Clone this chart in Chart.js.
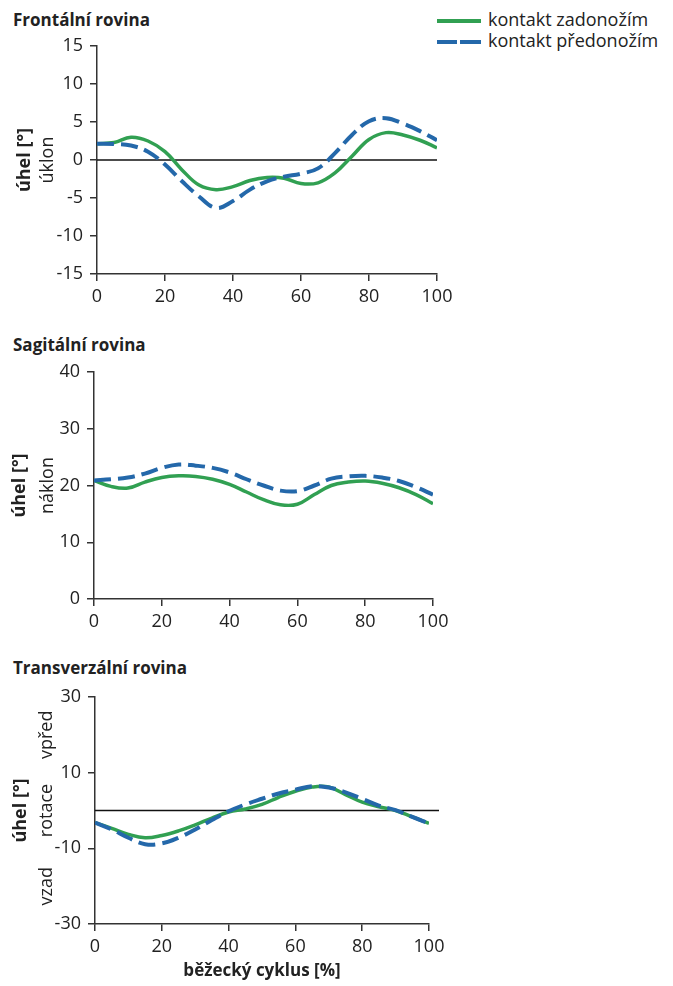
<!DOCTYPE html>
<html>
<head>
<meta charset="utf-8">
<script src="https://cdn.jsdelivr.net/npm/chart.js@4.4.1/dist/chart.umd.min.js"></script>
<style>
  body { margin: 0; background: #fff; font-family: 'Open Sans', sans-serif; color: #222; }
  #page { position: relative; width: 673px; height: 986px; overflow: hidden; }
  .box { position: absolute; left: 0; width: 460px; }
  .title { position: absolute; left: 13px; font-size: 17px; font-weight: bold; line-height: 20px; white-space: nowrap; }
  .leg { position: absolute; left: 437px; height: 21px; line-height: 21px; font-size: 18px; white-space: nowrap; }
  .leg .sw { position: absolute; top: 10px; height: 4px; }
  .leg span.txt { position: absolute; left: 51px; top: 0; }
</style>
</head>
<body>
<div id="page">
  <div class="title" style="top:10px">Frontální rovina</div>
  <div class="title" style="top:335px">Sagitální rovina</div>
  <div class="title" style="top:658px">Transverzální rovina</div>

  <div class="leg" style="top:9px">
    <div class="sw" style="left:0;width:44px;background:#31A052"></div>
    <span class="txt">kontakt zadonožím</span>
  </div>
  <div class="leg" style="top:30px">
    <div class="sw" style="left:0;width:20px;background:#2468AA"></div>
    <div class="sw" style="left:23px;width:21px;background:#2468AA"></div>
    <span class="txt">kontakt předonožím</span>
  </div>

  <div class="box" style="top:0;height:310px"><canvas id="frontal"></canvas></div>
  <div class="box" style="top:310px;height:325px"><canvas id="sagittal"></canvas></div>
  <div class="box" style="top:635px;height:351px"><canvas id="transverse"></canvas></div>
</div>

<script>
// běžecký cyklus [%]
const cycle = [0, 5, 10, 15, 20, 25, 30, 35, 40, 45, 50, 55, 60, 65, 70, 75, 80, 85, 90, 95, 100];
const xTicks = [0, 20, 40, 60, 80, 100];

// frontální rovina
const frontZad = [2.15, 2.3, 3.0, 2.5, 1.1, -1.3, -3.3, -3.9, -3.5, -2.7, -2.3, -2.4, -3.1, -3.0, -1.7, 0.5, 2.7, 3.6, 3.3, 2.6, 1.6];
const frontPred = [2.15, 2.1, 1.9, 1.1, -0.6, -2.8, -4.8, -6.3, -5.4, -3.9, -2.8, -2.2, -1.8, -1.1, 0.9, 3.3, 5.1, 5.5, 4.8, 3.8, 2.6];

// sagitální rovina
const sagZad = [20.9, 19.85, 19.55, 20.6, 21.4, 21.7, 21.6, 21.1, 20.2, 18.85, 17.5, 16.6, 16.7, 18.4, 20.0, 20.6, 20.8, 20.4, 19.6, 18.4, 16.8];
const sagPred = [20.9, 21.1, 21.4, 22.1, 23.1, 23.7, 23.5, 23.1, 22.3, 21.1, 20.0, 19.1, 19.0, 20.0, 21.2, 21.6, 21.7, 21.4, 20.8, 19.7, 18.4];

// transverzální rovina
const transZad = [-3.2, -4.7, -6.3, -7.2, -6.6, -5.4, -3.8, -2.0, -0.4, 0.4, 1.6, 3.5, 5.1, 6.2, 6.2, 4.2, 2.2, 1.0, 0.0, -1.7, -3.4];
const transPred = [-3.2, -5.0, -7.2, -8.9, -8.7, -7.2, -5.0, -2.5, -0.2, 1.6, 3.1, 4.5, 5.5, 6.4, 6.1, 4.8, 3.1, 1.3, 0.1, -1.7, -3.4];

const GREEN = '#31A052';
const BLUE = '#2468AA';
const FONT = "'Open Sans', sans-serif";

// zero line under the data, rotated side labels and x title on top
const extras = {
  id: 'extras',
  beforeDatasetsDraw(chart, args, opts) {
    if (!opts.zeroLine) return;
    const ctx = chart.ctx, area = chart.chartArea;
    const y0 = chart.scales.y.getPixelForValue(0);
    ctx.save();
    ctx.strokeStyle = '#111';
    ctx.lineWidth = 1.5;
    ctx.beginPath();
    ctx.moveTo(area.left, y0);
    ctx.lineTo(area.right + (opts.zeroExtend || 0), y0);
    ctx.stroke();
    ctx.restore();
  },
  afterDraw(chart, args, opts) {
    const ctx = chart.ctx, ys = chart.scales.y, area = chart.chartArea;
    ctx.save();
    ctx.fillStyle = '#222';
    ctx.textAlign = 'center';
    ctx.textBaseline = 'middle';
    (opts.side || []).forEach(l => {
      ctx.save();
      ctx.translate(l.x, ys.getPixelForValue(l.value));
      ctx.rotate(-Math.PI / 2);
      ctx.font = (l.bold ? 'bold ' : '') + '18px ' + FONT;
      ctx.fillText(l.text, 0, 0);
      ctx.restore();
    });
    if (opts.xTitle) {
      ctx.font = 'bold 17px ' + FONT;
      ctx.fillText(opts.xTitle, (area.left + area.right) / 2, area.bottom + 47);
    }
    ctx.restore();
  }
};

function makeChart(id, zad, pred, cfg) {
  const pts = arr => arr.map((v, i) => ({ x: cycle[i], y: v }));
  return new Chart(document.getElementById(id), {
    type: 'line',
    data: {
      datasets: [
        {
          label: 'kontakt zadonožím',
          data: pts(zad),
          borderColor: GREEN,
          borderWidth: 3.5,
          pointRadius: 0,
          tension: 0.4,
          order: 2
        },
        {
          label: 'kontakt předonožím',
          data: pts(pred),
          borderColor: BLUE,
          borderWidth: 4,
          borderDash: [17, 7],
          borderCapStyle: 'butt',
          pointRadius: 0,
          tension: 0.4,
          order: 1
        }
      ]
    },
    options: {
      responsive: true,
      maintainAspectRatio: false,
      animation: false,
      events: [],
      layout: { padding: { top: cfg.top, right: cfg.right, left: 0, bottom: 0 } },
      scales: {
        x: {
          type: 'linear',
          min: 0,
          max: 100,
          afterBuildTicks: s => { s.ticks = xTicks.map(v => ({ value: v })); },
          afterFit: s => { s.height = cfg.xHeight; },
          grid: { drawOnChartArea: false, drawTicks: true, tickLength: 7, color: '#333', lineWidth: 1.5 },
          border: { display: true, color: '#333', width: 1.5 },
          ticks: { color: '#222', font: { size: 18, family: FONT }, padding: 5, maxRotation: 0 }
        },
        y: {
          min: cfg.yMin,
          max: cfg.yMax,
          afterBuildTicks: s => { s.ticks = cfg.yTicks.map(v => ({ value: v })); },
          afterFit: s => { s.width = cfg.left; },
          grid: { drawOnChartArea: false, drawTicks: true, tickLength: 7, color: '#333', lineWidth: 1.5 },
          border: { display: true, color: '#333', width: 1.5 },
          ticks: { color: '#222', font: { size: 18, family: FONT }, padding: 7 }
        }
      },
      plugins: {
        legend: { display: false },
        tooltip: { enabled: false },
        extras: cfg.extras
      }
    },
    plugins: [extras]
  });
}

makeChart('frontal', frontZad, frontPred, {
  top: 46, right: 23, left: 97, xHeight: 36,
  yMin: -15, yMax: 15, yTicks: [-15, -10, -5, 0, 5, 10, 15],
  extras: {
    zeroLine: true,
    side: [
      { text: 'úhel [°]', bold: true, x: 25, value: 0 },
      { text: 'úklon', x: 48, value: 0 }
    ]
  }
});

makeChart('sagittal', sagZad, sagPred, {
  top: 62, right: 27, left: 94, xHeight: 36,
  yMin: 0, yMax: 40, yTicks: [0, 10, 20, 30, 40],
  extras: {
    side: [
      { text: 'úhel [°]', bold: true, x: 20, value: 20 },
      { text: 'náklon', x: 48, value: 20 }
    ]
  }
});

makeChart('transverse', transZad, transPred, {
  top: 62, right: 31, left: 95, xHeight: 62,
  yMin: -30, yMax: 30, yTicks: [-30, -10, 10, 30],
  extras: {
    zeroLine: true,
    zeroExtend: 10,
    xTitle: 'běžecký cyklus [%]',
    side: [
      { text: 'úhel [°]', bold: true, x: 21, value: 0 },
      { text: 'vpřed', x: 47, value: 20 },
      { text: 'rotace', x: 47, value: 0 },
      { text: 'vzad', x: 47, value: -20 }
    ]
  }
});
</script>
</body>
</html>
